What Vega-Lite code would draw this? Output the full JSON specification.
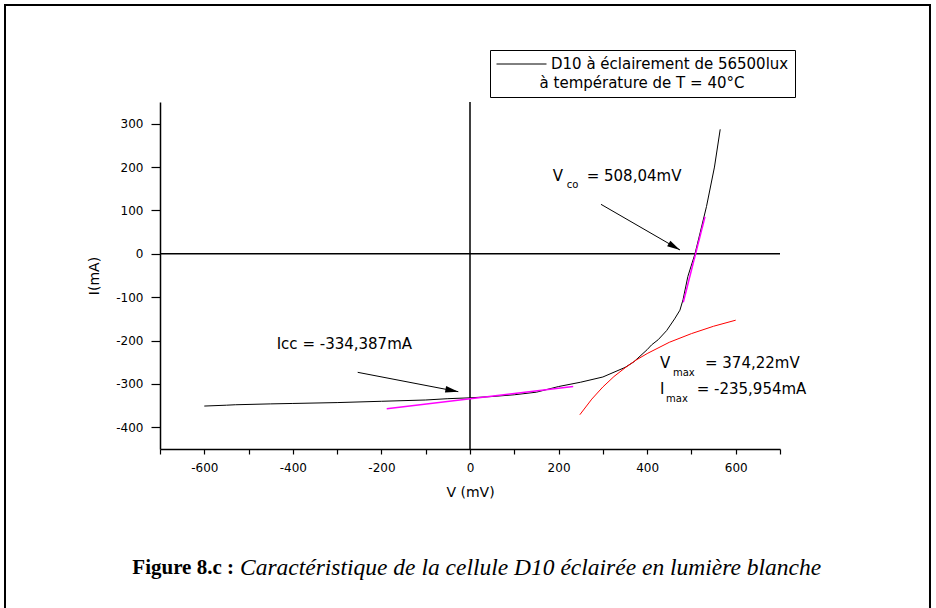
{
  "$schema": "https://vega.github.io/schema/vega-lite/v6.json",
  "width": 620,
  "height": 347,
  "autosize": {"type": "none"},
  "padding": {"left": 160, "top": 102, "right": 156, "bottom": 159},
  "background": "white",
  "config": {"view": {"stroke": null}, "font": "DejaVu Sans"},
  "datasets": {
    "curve": [
      {"v": -600, "i": -351, "series": "D10 à éclairement de 56500lux"},
      {"v": -550, "i": -349, "series": "D10 à éclairement de 56500lux"},
      {"v": -530, "i": -348, "series": "D10 à éclairement de 56500lux"},
      {"v": -450, "i": -346, "series": "D10 à éclairement de 56500lux"},
      {"v": -400, "i": -345, "series": "D10 à éclairement de 56500lux"},
      {"v": -300, "i": -343, "series": "D10 à éclairement de 56500lux"},
      {"v": -200, "i": -340, "series": "D10 à éclairement de 56500lux"},
      {"v": -100, "i": -337, "series": "D10 à éclairement de 56500lux"},
      {"v": -50, "i": -334, "series": "D10 à éclairement de 56500lux"},
      {"v": 0, "i": -332, "series": "D10 à éclairement de 56500lux"},
      {"v": 50, "i": -329, "series": "D10 à éclairement de 56500lux"},
      {"v": 100, "i": -325, "series": "D10 à éclairement de 56500lux"},
      {"v": 150, "i": -319, "series": "D10 à éclairement de 56500lux"},
      {"v": 200, "i": -306, "series": "D10 à éclairement de 56500lux"},
      {"v": 250, "i": -296, "series": "D10 à éclairement de 56500lux"},
      {"v": 300, "i": -284, "series": "D10 à éclairement de 56500lux"},
      {"v": 350, "i": -262, "series": "D10 à éclairement de 56500lux"},
      {"v": 370, "i": -249, "series": "D10 à éclairement de 56500lux"},
      {"v": 400, "i": -221, "series": "D10 à éclairement de 56500lux"},
      {"v": 410, "i": -210, "series": "D10 à éclairement de 56500lux"},
      {"v": 425, "i": -198, "series": "D10 à éclairement de 56500lux"},
      {"v": 444, "i": -177, "series": "D10 à éclairement de 56500lux"},
      {"v": 462, "i": -150, "series": "D10 à éclairement de 56500lux"},
      {"v": 474, "i": -130, "series": "D10 à éclairement de 56500lux"},
      {"v": 481, "i": -106, "series": "D10 à éclairement de 56500lux"},
      {"v": 492, "i": -52, "series": "D10 à éclairement de 56500lux"},
      {"v": 508, "i": 0, "series": "D10 à éclairement de 56500lux"},
      {"v": 520, "i": 50, "series": "D10 à éclairement de 56500lux"},
      {"v": 534, "i": 109, "series": "D10 à éclairement de 56500lux"},
      {"v": 552, "i": 200, "series": "D10 à éclairement de 56500lux"},
      {"v": 565, "i": 287, "series": "D10 à éclairement de 56500lux"}
    ],
    "tangents": [
      {"id": "icc", "v": -188, "i": -357},
      {"id": "icc", "v": 233, "i": -306},
      {"id": "vco", "v": 481.6, "i": -111.8},
      {"id": "vco", "v": 530.6, "i": 85.5}
    ],
    "power": [
      {"v": 248, "i": -371},
      {"v": 275, "i": -335},
      {"v": 300, "i": -307},
      {"v": 325, "i": -283},
      {"v": 350, "i": -263},
      {"v": 375, "i": -245},
      {"v": 400, "i": -230},
      {"v": 450, "i": -204},
      {"v": 500, "i": -184},
      {"v": 550, "i": -167},
      {"v": 600, "i": -153}
    ],
    "arrows": [
      {"id": "icc", "v1": -253.6, "i1": -273.2, "v2": -26.4, "i2": -317.9},
      {"id": "vco", "v1": 295.8, "i1": 114.1, "v2": 474.2, "i2": 8.8}
    ],
    "notes": [
      {"v": -436.5, "i": -208, "t": "Icc = -334,387mA"},
      {"v": 186.7, "i": 179.4, "t": "V"},
      {"v": 263.5, "i": 179.4, "t": "= 508,04mV"},
      {"v": 429, "i": -250.6, "t": "V"},
      {"v": 530.6, "i": -250.6, "t": "= 374,22mV"},
      {"v": 429, "i": -311.7, "t": "I"},
      {"v": 511.9, "i": -311.7, "t": "= -235,954mA"}
    ],
    "subs": [
      {"v": 218.4, "i": 158.6, "t": "co"},
      {"v": 458.4, "i": -275.5, "t": "max"},
      {"v": 442.6, "i": -334.8, "t": "max"}
    ]
  },
  "layer": [
    {
      "data": {"values": [{}]},
      "mark": {"type": "rect", "fill": "transparent", "stroke": "black", "strokeWidth": 2},
      "encoding": {
        "x": {"datum": -1050, "type": "quantitative", "scale": {"domain": [-700, 700], "nice": false, "zero": false}},
        "x2": {"datum": 1038.7},
        "y": {"datum": 573.6, "type": "quantitative", "scale": {"domain": [-450, 350], "nice": false, "zero": false}},
        "y2": {"datum": -844}
      }
    },
    {
      "data": {"values": [{}]},
      "mark": {"type": "rule", "color": "black", "strokeWidth": 1.5},
      "encoding": {
        "y": {"datum": 0, "type": "quantitative", "scale": {"domain": [-450, 350], "nice": false, "zero": false}}
      }
    },
    {
      "data": {"values": [{}]},
      "mark": {"type": "rule", "color": "black", "strokeWidth": 1.5},
      "encoding": {
        "x": {"datum": 0, "type": "quantitative", "scale": {"domain": [-700, 700], "nice": false, "zero": false}}
      }
    },
    {
      "data": {"name": "curve"},
      "mark": {"type": "line", "strokeWidth": 1},
      "encoding": {
        "x": {
          "field": "v", "type": "quantitative",
          "scale": {"domain": [-700, 700], "nice": false, "zero": false},
          "axis": {
            "title": "V (mV)",
            "values": [-700, -600, -500, -400, -300, -200, -100, 0, 100, 200, 300, 400, 500, 600, 700],
            "labelExpr": "datum.value % 200 === 0 ? '' + datum.value : ''",
            "labelOverlap": false,
            "grid": false,
            "domainColor": "black", "domainWidth": 1.5,
            "tickColor": "black", "tickWidth": 1.2,
            "tickSize": 5,
            "labelPadding": 8,
            "labelFont": "DejaVu Sans", "labelFontSize": 12, "labelColor": "black",
            "titleFont": "DejaVu Sans", "titleFontSize": 14, "titleFontWeight": "normal", "titleColor": "black",
            "titlePadding": 12
          }
        },
        "y": {
          "field": "i", "type": "quantitative",
          "scale": {"domain": [-450, 350], "nice": false, "zero": false},
          "axis": {
            "title": "I(mA)",
            "values": [-400, -300, -200, -100, 0, 100, 200, 300],
            "labelExpr": "'' + datum.value",
            "labelOverlap": false,
            "grid": false,
            "domainColor": "black", "domainWidth": 1.5,
            "tickColor": "black", "tickWidth": 1.2,
            "tickSize": 9,
            "labelPadding": 8,
            "labelFont": "DejaVu Sans", "labelFontSize": 12, "labelColor": "black",
            "titleFont": "DejaVu Sans", "titleFontSize": 14, "titleFontWeight": "normal", "titleColor": "black",
            "titlePadding": 14
          }
        },
        "color": {
          "field": "series", "type": "nominal",
          "scale": {"range": ["black"]},
          "legend": {
            "orient": "none", "legendX": 330, "legendY": -52,
            "title": "à température de T = 40°C",
            "titleOrient": "bottom", "titleAnchor": "middle", "titleLimit": 600,
            "titleFont": "DejaVu Sans", "titleFontSize": 15, "titleFontWeight": "normal", "titleColor": "black",
            "titlePadding": 4,
            "labelFont": "DejaVu Sans", "labelFontSize": 15, "labelColor": "black", "labelLimit": 600, "labelOffset": 4,
            "symbolType": "stroke", "symbolSize": 2500, "symbolStrokeWidth": 1, "symbolStrokeColor": "black",
            "clipHeight": 16,
            "strokeColor": "black", "padding": 6
          }
        }
      }
    },
    {
      "data": {"name": "tangents"},
      "mark": {"type": "line", "color": "#FF00FF", "strokeWidth": 1.5},
      "encoding": {
        "x": {"field": "v", "type": "quantitative", "scale": {"domain": [-700, 700], "nice": false, "zero": false}},
        "y": {"field": "i", "type": "quantitative", "scale": {"domain": [-450, 350], "nice": false, "zero": false}},
        "detail": {"field": "id"}
      }
    },
    {
      "data": {"name": "power"},
      "mark": {"type": "line", "color": "#FF0000", "strokeWidth": 1},
      "encoding": {
        "x": {"field": "v", "type": "quantitative", "scale": {"domain": [-700, 700], "nice": false, "zero": false}},
        "y": {"field": "i", "type": "quantitative", "scale": {"domain": [-450, 350], "nice": false, "zero": false}}
      }
    },
    {
      "data": {"name": "arrows"},
      "mark": {"type": "rule", "color": "black", "strokeWidth": 1},
      "encoding": {
        "x": {"field": "v1", "type": "quantitative", "scale": {"domain": [-700, 700], "nice": false, "zero": false}},
        "y": {"field": "i1", "type": "quantitative", "scale": {"domain": [-450, 350], "nice": false, "zero": false}},
        "x2": {"field": "v2"},
        "y2": {"field": "i2"}
      }
    },
    {
      "data": {"name": "arrows"},
      "transform": [{"filter": "datum.id === 'icc'"}],
      "mark": {"type": "point", "shape": "M0,0L-2,-0.5L-2,0.5Z", "filled": true, "color": "black", "opacity": 1, "size": 169, "angle": 10.9},
      "encoding": {
        "x": {"field": "v2", "type": "quantitative", "scale": {"domain": [-700, 700], "nice": false, "zero": false}},
        "y": {"field": "i2", "type": "quantitative", "scale": {"domain": [-450, 350], "nice": false, "zero": false}}
      }
    },
    {
      "data": {"name": "arrows"},
      "transform": [{"filter": "datum.id === 'vco'"}],
      "mark": {"type": "point", "shape": "M0,0L-2,-0.5L-2,0.5Z", "filled": true, "color": "black", "opacity": 1, "size": 169, "angle": 30},
      "encoding": {
        "x": {"field": "v2", "type": "quantitative", "scale": {"domain": [-700, 700], "nice": false, "zero": false}},
        "y": {"field": "i2", "type": "quantitative", "scale": {"domain": [-450, 350], "nice": false, "zero": false}}
      }
    },
    {
      "data": {"name": "notes"},
      "mark": {"type": "text", "align": "left", "baseline": "middle", "font": "DejaVu Sans", "fontSize": 15, "color": "black"},
      "encoding": {
        "x": {"field": "v", "type": "quantitative", "scale": {"domain": [-700, 700], "nice": false, "zero": false}},
        "y": {"field": "i", "type": "quantitative", "scale": {"domain": [-450, 350], "nice": false, "zero": false}},
        "text": {"field": "t"}
      }
    },
    {
      "data": {"name": "subs"},
      "mark": {"type": "text", "align": "left", "baseline": "middle", "font": "DejaVu Sans", "fontSize": 10, "color": "black"},
      "encoding": {
        "x": {"field": "v", "type": "quantitative", "scale": {"domain": [-700, 700], "nice": false, "zero": false}},
        "y": {"field": "i", "type": "quantitative", "scale": {"domain": [-450, 350], "nice": false, "zero": false}},
        "text": {"field": "t"}
      }
    },
    {
      "data": {"values": [{}]},
      "mark": {"type": "text", "align": "right", "baseline": "middle", "font": "Liberation Serif", "fontSize": 21, "fontWeight": "bold", "color": "black"},
      "encoding": {
        "x": {"datum": -532.9, "type": "quantitative", "scale": {"domain": [-700, 700], "nice": false, "zero": false}},
        "y": {"datum": -724.4, "type": "quantitative", "scale": {"domain": [-450, 350], "nice": false, "zero": false}},
        "text": {"value": "Figure 8.c :"}
      }
    },
    {
      "data": {"values": [{}]},
      "mark": {"type": "text", "align": "left", "baseline": "middle", "font": "Liberation Serif", "fontSize": 23.5, "fontStyle": "italic", "color": "black"},
      "encoding": {
        "x": {"datum": -519.4, "type": "quantitative", "scale": {"domain": [-700, 700], "nice": false, "zero": false}},
        "y": {"datum": -724.4, "type": "quantitative", "scale": {"domain": [-450, 350], "nice": false, "zero": false}},
        "text": {"value": "Caractéristique de la cellule D10 éclairée en lumière blanche"}
      }
    }
  ]
}
